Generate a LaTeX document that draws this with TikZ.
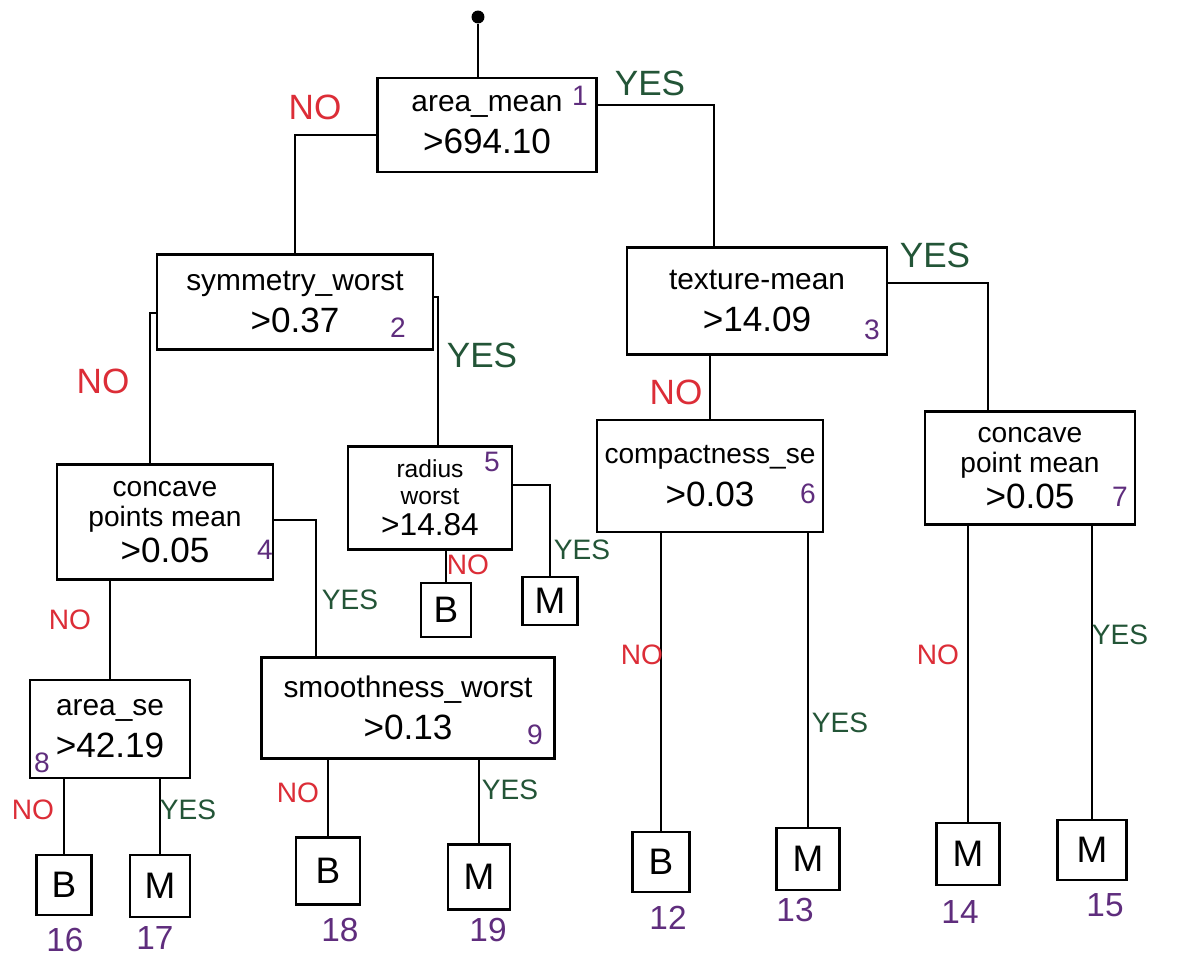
\documentclass[tikz,border=0pt]{standalone}
\usepackage{fontspec}
\setmainfont{Liberation Sans}
\usetikzlibrary{calc}
\definecolor{nored}{RGB}{220,45,55}
\definecolor{yesgreen}{RGB}{35,85,55}
\definecolor{numpurple}{RGB}{95,45,125}
\tikzset{
  testbox/.style={draw, line width=1.6pt, align=center, inner sep=0pt, font=\fontsize{17}{24}\selectfont},
  tallbox/.style={testbox, font=\fontsize{16}{17}\selectfont},
  smallbox/.style={testbox, font=\fontsize{14}{15}\selectfont},
  leafbox/.style={draw, line width=1.6pt, inner sep=0pt, font=\fontsize{21}{21}\selectfont},
  edge/.style={line width=1.3pt},
  nolab/.style={text=nored, font=\fontsize{16}{16}\selectfont},
  bignolab/.style={text=nored, font=\fontsize{20}{20}\selectfont},
  yeslab/.style={text=yesgreen, font=\fontsize{16}{16}\selectfont},
  bigyeslab/.style={text=yesgreen, font=\fontsize{20}{20}\selectfont},
  idlab/.style={text=numpurple, font=\fontsize{16}{16}\selectfont},
  leafid/.style={text=numpurple, font=\fontsize{19}{19}\selectfont},
}
\newcommand{\numline}{\fontsize{20}{24}\selectfont}
\newcommand{\numlinesmall}{\fontsize{18}{21}\selectfont}
\begin{document}
\begin{tikzpicture}[x=0.02cm, y=-0.02cm]
\useasboundingbox (0,0) rectangle (1186,973);
\fill[white] (0,0) rectangle (1186,973);

% root marker
\node[circle, fill=black, inner sep=2.6pt] (root) at (478,17) {};

% decision boxes
\node[testbox, minimum width=4.38cm, minimum height=1.88cm] (n1) at (487,125) {area\_mean\\\numline >694.10};
\node[testbox, minimum width=5.52cm, minimum height=1.9cm] (n2) at (295,302) {symmetry\_worst\\\numline >0.37};
\node[testbox, minimum width=5.2cm, minimum height=2.14cm] (n3) at (757,301) {texture-mean\\\numline >14.09};
\node[tallbox, minimum width=4.32cm, minimum height=2.3cm] (n4) at (165,522) {concave\\points mean\\[2pt]\numline >0.05};
\node[smallbox, minimum width=3.28cm, minimum height=2.06cm] (n5) at (430,498) {radius\\worst\\[3pt]\numlinesmall >14.84};
\node[testbox, minimum width=4.52cm, minimum height=2.24cm, font=\fontsize{16}{24}\selectfont] (n6) at (710,476) {compactness\_se\\\numline >0.03};
\node[tallbox, minimum width=4.2cm, minimum height=2.26cm] (n7) at (1030,468) {concave\\point mean\\[2pt]\numline >0.05};
\node[testbox, minimum width=3.2cm, minimum height=1.96cm] (n8) at (110,729) {area\_se\\\numline >42.19};
\node[testbox, minimum width=5.86cm, minimum height=2.02cm] (n9) at (408,708) {smoothness\_worst\\\numline >0.13};

% leaves
\node[leafbox, minimum width=1.0cm, minimum height=1.08cm] (L10) at (446,610) {B};
\node[leafbox, minimum width=1.1cm, minimum height=0.96cm] (L11) at (550,601) {M};
\node[leafbox, minimum width=1.1cm, minimum height=1.2cm] (L16) at (64,885) {B};
\node[leafbox, minimum width=1.2cm, minimum height=1.24cm] (L17) at (160,886) {M};
\node[leafbox, minimum width=1.28cm, minimum height=1.34cm] (L18) at (328,871) {B};
\node[leafbox, minimum width=1.24cm, minimum height=1.3cm] (L19) at (479,877) {M};
\node[leafbox, minimum width=1.14cm, minimum height=1.2cm] (L12) at (661,862) {B};
\node[leafbox, minimum width=1.26cm, minimum height=1.24cm] (L13) at (808,859) {M};
\node[leafbox, minimum width=1.26cm, minimum height=1.24cm] (L14) at (968,854) {M};
\node[leafbox, minimum width=1.38cm, minimum height=1.2cm] (L15) at (1092,850) {M};

% node ids
\node[idlab] (id1) at (580,96) {1};
\node[idlab] (id2) at (398,328) {2};
\node[idlab] (id3) at (872,330) {3};
\node[idlab] (id4) at (265,550) {4};
\node[idlab] (id5) at (492,462) {5};
\node[idlab] (id6) at (808,494) {6};
\node[idlab] (id7) at (1120,497) {7};
\node[idlab] (id8) at (42,763) {8};
\node[idlab] (id9) at (535,735) {9};

\node[leafid] (id16) at (65,940) {16};
\node[leafid] (id17) at (155,938) {17};
\node[leafid] (id18) at (340,930) {18};
\node[leafid] (id19) at (488,930) {19};
\node[leafid] (id12) at (668,918) {12};
\node[leafid] (id13) at (795,910) {13};
\node[leafid] (id14) at (960,912) {14};
\node[leafid] (id15) at (1105,905) {15};

% connectors
\draw[edge] (root) -- (root |- n1.north);
\draw[edge] ($(n1.west)+(0,10)$) -| (n2.north);
\draw[edge] ($(n1.east)+(0,-20)$) -| ($(n3.north)+(-43,0)$);
\draw[edge] ($(n2.west)+(0,11)$) -| ($(n4.north)+(-15,0)$);
\draw[edge] ($(n2.east)+(0,-5)$) -| ($(n5.north)+(8,0)$);
\draw[edge] (n3.south -| n6.north) -- (n6.north);
\draw[edge] ($(n3.east)+(0,-18)$) -| ($(n7.north)+(-42,0)$);
\draw[edge] (n4.south -| n8.north) -- (n8.north);
\draw[edge] ($(n4.east)+(0,-2)$) -| ($(n9.north)+(-92,0)$);
\draw[edge] (n5.south -| L10.north) -- (L10.north);
\draw[edge] ($(n5.east)+(0,-13)$) -| (L11.north);
\draw[edge] (n6.south -| L12.north) -- (L12.north);
\draw[edge] (n6.south -| L13.north) -- (L13.north);
\draw[edge] (n7.south -| L14.north) -- (L14.north);
\draw[edge] (n7.south -| L15.north) -- (L15.north);
\draw[edge] (n8.south -| L16.north) -- (L16.north);
\draw[edge] (n8.south -| L17.north) -- (L17.north);
\draw[edge] (n9.south -| L18.north) -- (L18.north);
\draw[edge] (n9.south -| L19.north) -- (L19.north);

% branch labels
\node[bignolab] (no1) at (315,107) {NO};
\node[bigyeslab] (yes1) at (650,83) {YES};
\node[bignolab] (no2) at (103,381) {NO};
\node[bigyeslab] (yes2) at (482,355) {YES};
\node[bignolab] (no3) at (676,392) {NO};
\node[bigyeslab] (yes3) at (935,255) {YES};
\node[nolab] (no4) at (70,620) {NO};
\node[yeslab] (yes4) at (350,600) {YES};
\node[nolab] (no5) at (468,565) {NO};
\node[yeslab] (yes5) at (582,550) {YES};
\node[nolab] (no6) at (642,655) {NO};
\node[yeslab] (yes6) at (840,723) {YES};
\node[nolab] (no7) at (938,655) {NO};
\node[yeslab] (yes7) at (1120,635) {YES};
\node[nolab] (no8) at (33,810) {NO};
\node[yeslab] (yes8) at (188,810) {YES};
\node[nolab] (no9) at (298,793) {NO};
\node[yeslab] (yes9) at (510,790) {YES};
\end{tikzpicture}
\end{document}
